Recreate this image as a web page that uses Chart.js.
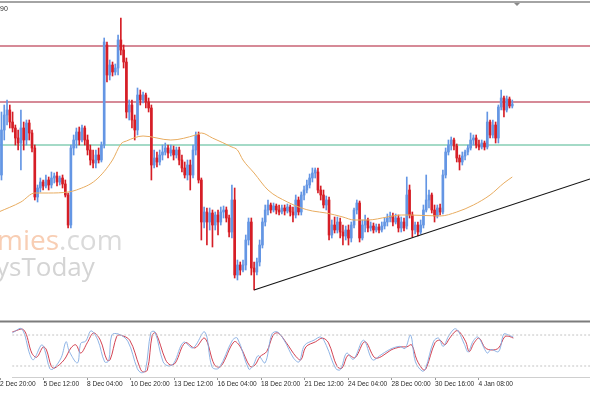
<!DOCTYPE html>
<html>
<head>
<meta charset="utf-8">
<script src="https://cdn.jsdelivr.net/npm/chart.js@4.4.0/dist/chart.umd.min.js"></script>
<style>
  html, body { margin: 0; padding: 0; background: #fff; }
  #wrap { position: relative; width: 590px; height: 393px; overflow: hidden; background: #fff; }
  #main { position: absolute; left: 0; top: 0; }
  #osc { position: absolute; left: 0; top: 318px; }
</style>
</head>
<body>
<div id="wrap">
  <canvas id="main" width="590" height="316"></canvas>
  <canvas id="osc" width="590" height="75"></canvas>
</div>
<script>
// H4 candles, first visible bar is bar 5 (bar 0 = 2 Dec 20:00)
const firstBar = 5;

const openP = [
  1.1929,1.1974,1.1989,1.1994,1.1982,1.1976,1.1966,1.1961,1.1976,1.1964,
  1.1981,1.1971,1.1956,1.1907,1.1916,1.1922,1.1918,1.1924,1.1919,1.1926,
  1.1928,1.1922,1.1926,1.1920,1.1909,1.1879,1.1956,1.1964,1.1972,1.1964,
  1.1976,1.1964,1.1954,1.1944,1.1941,1.1949,1.1944,1.1959,1.2059,1.2029,
  1.2039,1.2032,1.2036,1.2064,1.2054,1.2042,1.1992,1.1999,1.1984,1.1974,
  1.2009,1.2004,1.2009,1.2002,1.1996,1.1939,1.1946,1.1942,1.1949,1.1952,
  1.1956,1.1951,1.1954,1.1949,1.1954,1.1944,1.1936,1.1929,1.1939,1.1929,
  1.1954,1.1969,1.1924,1.1882,1.1892,1.1882,1.1891,1.1879,1.1889,1.1882,
  1.1892,1.1894,1.1886,1.1872,1.1904,1.1829,1.1839,1.1834,1.1839,1.1864,
  1.1882,1.1836,1.1832,1.1842,1.1859,1.1882,1.1894,1.1899,1.1894,1.1898,
  1.1894,1.1892,1.1896,1.1893,1.1897,1.1892,1.1889,1.1904,1.1892,1.1909,
  1.1914,1.1919,1.1926,1.1931,1.1932,1.1914,1.1909,1.1899,1.1904,1.1869,
  1.1879,1.1874,1.1882,1.1872,1.1868,1.1874,1.1866,1.1879,1.1894,1.1901,
  1.1866,1.1879,1.1884,1.1876,1.1878,1.1874,1.1877,1.1874,1.1878,1.1882,
  1.1886,1.1888,1.1882,1.1886,1.1876,1.1882,1.1878,1.1914,1.1889,1.1874,
  1.1879,1.1872,1.1879,1.1894,1.1904,1.1909,1.1894,1.1888,1.1896,1.1892,
  1.1929,1.1952,1.1959,1.1964,1.1958,1.1946,1.1942,1.1948,1.1952,1.1956,
  1.1964,1.1966,1.1959,1.1957,1.1961,1.1957,1.1982,1.1969,1.1979,1.1966,
  1.1997,1.2006,1.1994,1.2005,1.1998
];
const highP = [
  1.1992,1.1999,1.2004,1.1999,1.1992,1.1979,1.1974,1.1994,1.1982,1.1984,
  1.1984,1.1974,1.1959,1.1919,1.1926,1.1924,1.1929,1.1927,1.1932,1.1931,
  1.1932,1.1928,1.1929,1.1924,1.1911,1.1959,1.1969,1.1976,1.1977,1.1979,
  1.1978,1.1969,1.1959,1.1954,1.1954,1.1956,1.1962,1.2066,1.2062,1.2044,
  1.2042,1.2040,1.2069,1.2086,1.2059,1.2046,1.2004,1.2004,1.1989,1.2016,
  1.2014,1.2012,1.2011,1.2006,1.1999,1.1954,1.1952,1.1954,1.1959,1.1961,
  1.1959,1.1959,1.1958,1.1957,1.1957,1.1949,1.1942,1.1944,1.1944,1.1959,
  1.1972,1.1972,1.1926,1.1897,1.1896,1.1896,1.1894,1.1892,1.1894,1.1897,
  1.1898,1.1897,1.1889,1.1919,1.1916,1.1844,1.1842,1.1844,1.1869,1.1886,
  1.1886,1.1842,1.1846,1.1864,1.1886,1.1899,1.1904,1.1901,1.1901,1.1900,
  1.1899,1.1899,1.1899,1.1900,1.1899,1.1897,1.1909,1.1907,1.1912,1.1918,
  1.1924,1.1930,1.1936,1.1936,1.1936,1.1918,1.1914,1.1908,1.1907,1.1884,
  1.1887,1.1887,1.1886,1.1879,1.1878,1.1879,1.1882,1.1896,1.1904,1.1903,
  1.1884,1.1889,1.1886,1.1882,1.1881,1.1880,1.1880,1.1882,1.1886,1.1890,
  1.1892,1.1891,1.1890,1.1889,1.1887,1.1886,1.1927,1.1919,1.1892,1.1882,
  1.1882,1.1884,1.1899,1.1929,1.1914,1.1911,1.1899,1.1899,1.1900,1.1934,
  1.1956,1.1964,1.1967,1.1966,1.1960,1.1949,1.1952,1.1954,1.1959,1.1971,
  1.1969,1.1969,1.1964,1.1964,1.1963,1.1992,1.1984,1.1984,1.1982,1.1999,
  1.2014,1.2008,1.2008,1.2007,1.2004
];
const lowP = [
  1.1924,1.1964,1.1979,1.1976,1.1972,1.1959,1.1954,1.1934,1.1954,1.1959,
  1.1964,1.1952,1.1904,1.1902,1.1912,1.1914,1.1916,1.1914,1.1916,1.1921,
  1.1918,1.1919,1.1916,1.1907,1.1876,1.1876,1.1949,1.1956,1.1959,1.1962,
  1.1959,1.1949,1.1939,1.1936,1.1936,1.1941,1.1942,1.1956,1.2022,1.2024,
  1.2028,1.2029,1.2029,1.2049,1.2036,1.1986,1.1984,1.1976,1.1964,1.1969,
  1.1999,1.2001,1.1996,1.1992,1.1924,1.1936,1.1937,1.1939,1.1944,1.1949,
  1.1946,1.1948,1.1944,1.1946,1.1939,1.1932,1.1926,1.1924,1.1914,1.1926,
  1.1949,1.1921,1.1864,1.1876,1.1859,1.1874,1.1857,1.1874,1.1869,1.1879,
  1.1886,1.1882,1.1867,1.1866,1.1826,1.1824,1.1829,1.1832,1.1834,1.1859,
  1.1829,1.1814,1.1829,1.1838,1.1856,1.1878,1.1889,1.1891,1.1892,1.1890,
  1.1889,1.1890,1.1889,1.1891,1.1888,1.1882,1.1886,1.1889,1.1889,1.1904,
  1.1911,1.1916,1.1922,1.1926,1.1911,1.1904,1.1896,1.1894,1.1864,1.1866,
  1.1871,1.1871,1.1866,1.1859,1.1864,1.1859,1.1862,1.1876,1.1890,1.1862,
  1.1864,1.1872,1.1872,1.1873,1.1871,1.1872,1.1871,1.1872,1.1875,1.1878,
  1.1882,1.1878,1.1880,1.1872,1.1872,1.1873,1.1875,1.1886,1.1867,1.1870,
  1.1868,1.1870,1.1876,1.1892,1.1896,1.1891,1.1882,1.1886,1.1889,1.1890,
  1.1926,1.1949,1.1954,1.1954,1.1942,1.1934,1.1939,1.1944,1.1949,1.1954,
  1.1959,1.1956,1.1954,1.1955,1.1954,1.1955,1.1966,1.1966,1.1961,1.1961,
  1.1994,1.1987,1.1992,1.1996,1.1996
];
const closeP = [
  1.1974,1.1989,1.1994,1.1982,1.1976,1.1966,1.1961,1.1976,1.1964,1.1981,
  1.1971,1.1956,1.1907,1.1916,1.1922,1.1918,1.1924,1.1919,1.1926,1.1928,
  1.1922,1.1926,1.1920,1.1909,1.1879,1.1956,1.1964,1.1972,1.1964,1.1976,
  1.1964,1.1954,1.1944,1.1941,1.1949,1.1944,1.1959,1.2062,1.2029,1.2039,
  1.2032,1.2036,1.2064,1.2054,1.2042,1.1992,1.1999,1.1984,1.1974,1.2009,
  1.2004,1.2009,1.2002,1.1996,1.1939,1.1946,1.1942,1.1949,1.1952,1.1956,
  1.1951,1.1954,1.1949,1.1954,1.1944,1.1936,1.1929,1.1939,1.1929,1.1954,
  1.1969,1.1924,1.1882,1.1892,1.1882,1.1891,1.1879,1.1889,1.1882,1.1892,
  1.1894,1.1886,1.1872,1.1904,1.1829,1.1839,1.1834,1.1839,1.1864,1.1882,
  1.1836,1.1832,1.1842,1.1859,1.1882,1.1894,1.1899,1.1894,1.1898,1.1894,
  1.1892,1.1896,1.1893,1.1897,1.1892,1.1889,1.1904,1.1892,1.1909,1.1914,
  1.1919,1.1926,1.1931,1.1934,1.1914,1.1909,1.1899,1.1904,1.1869,1.1879,
  1.1874,1.1882,1.1872,1.1868,1.1874,1.1866,1.1879,1.1894,1.1901,1.1866,
  1.1879,1.1884,1.1876,1.1878,1.1874,1.1877,1.1874,1.1878,1.1882,1.1886,
  1.1888,1.1882,1.1886,1.1876,1.1882,1.1876,1.1909,1.1889,1.1874,1.1879,
  1.1872,1.1879,1.1894,1.1904,1.1909,1.1894,1.1888,1.1896,1.1892,1.1929,
  1.1952,1.1959,1.1964,1.1958,1.1946,1.1942,1.1948,1.1952,1.1956,1.1964,
  1.1966,1.1959,1.1957,1.1961,1.1957,1.1982,1.1969,1.1979,1.1966,1.1997,
  1.2006,1.1994,1.2005,1.1998,1.2000
];

// moving average at these bars
const maBars = [4, 12, 17, 22, 29, 32, 39, 45, 48, 50, 56, 66, 75, 77, 81, 88, 90, 92, 96, 101,
  108, 113, 117, 122, 128, 132, 137, 144, 149, 152, 163, 169, 175, 181, 186, 189];
const maVals = [1.1892, 1.1902, 1.1911, 1.1911, 1.1912, 1.1914, 1.1924, 1.1944, 1.1960, 1.1963,
  1.1968, 1.1964, 1.1969, 1.1971, 1.1966, 1.1957, 1.1954, 1.1944, 1.1931, 1.1914,
  1.1902, 1.1896, 1.1893, 1.1891, 1.1887, 1.1884, 1.1884, 1.1887, 1.1889, 1.1889,
  1.1888, 1.1892, 1.1899, 1.1909, 1.1921, 1.1927];

// horizontal levels and trend line
const levels = [1.2058, 1.2002, 1.1959];
const levelColors = ['rgba(190,70,92,0.85)', 'rgba(190,70,92,0.85)', 'rgba(120,200,172,0.9)'];
const trendBars = [96, 217];
const trendVals = [1.1814, 1.1925];

// stochastic
const stochMainBars = [4.5, 8, 11, 12.3, 15.3, 16.5, 18.3, 19.5, 22.5, 24.3, 25.5, 28.5, 29.7, 31.5, 33.5, 36,
  38.5, 40, 41.1, 43.5, 47, 50.5, 52, 53.5, 55.5, 57, 60, 62, 64, 67.5, 71, 75.3, 78, 80.5, 85.5, 87.3,
  91.5, 93, 95, 97.5, 100, 102, 104.5, 108, 110, 112, 115.5, 118, 120, 123.5, 125.2, 127.5, 130, 133.7,
  137, 139.7, 143.3, 147, 149, 151, 152.8, 155.3, 156.5, 159.5, 161.3, 163, 165, 167.2, 168.5, 170.8,
  172.2, 174, 175.8, 179.2, 180.6, 183.4, 185.3, 187, 188.8];
const stochMain = [84, 92, 42, 32, 61, 50, 15, 14, 36, 67, 48, 26, 64, 68, 88, 70,
  28, 30, 80, 82, 68, 15, 7, 12, 85, 86, 28, 20, 26, 66, 55, 86, 18, 16, 70, 74,
  14, 20, 40, 26, 82, 86, 70, 35, 28, 60, 70, 76, 60, 15, 13, 45, 33, 70,
  32, 40, 52, 58, 54, 80, 28, 10, 15, 68, 74, 58, 78, 92, 88, 62,
  47, 68, 76, 45, 52, 48, 82, 80, 76];
const stochSigBars = [4.5, 8.7, 11.7, 13.5, 15.9, 17.1, 18.9, 20.1, 23.6, 26.1, 27.9, 29.7, 32.1, 34.4, 36.9,
  39.3, 40.5, 42.9, 44.1, 47.7, 51.3, 52.4, 54.2, 56.0, 57.3, 60.9, 62.7, 64.5, 68.1, 71.7, 75.3, 78.9,
  81.2, 86.1, 88.4, 92.0, 93.8, 95.6, 98.1, 100.5, 102.3, 105.3, 108.9, 110.7, 112.5, 116.1, 118.6,
  120.8, 124.0, 125.8, 128.0, 130.6, 134.2, 137.8, 140.2, 143.8, 147.4, 149.6, 151.4, 153.3, 155.8,
  156.8, 160.0, 161.8, 163.6, 165.4, 167.7, 169.0, 171.3, 172.6, 174.4, 176.2, 178.5, 181.0, 183.4,
  185.7, 187.5, 188.8];
const stochSig = [86, 90, 45, 37, 57, 51, 19, 16, 32, 55, 61, 45, 65, 84, 70,
  32, 32, 77, 80, 70, 19, 9, 12, 80, 84, 32, 22, 26, 65, 55, 74, 22,
  19, 67, 57, 19, 22, 38, 48, 80, 84, 65, 38, 32, 57, 67, 74,
  65, 19, 16, 41, 36, 67, 36, 38, 51, 57, 57, 61, 32, 12,
  16, 65, 70, 61, 74, 88, 86, 67, 48, 65, 74, 55, 51, 55,
  77, 77, 74];
const stochLevels = [80, 20];

// time axis
const tickBars = [0, 16, 32, 48, 64, 80, 96, 112, 128, 144, 160, 176];
const tickLabels = ['2 Dec 20:00', '5 Dec 12:00', '8 Dec 04:00', '10 Dec 20:00', '13 Dec 12:00',
  '16 Dec 04:00', '18 Dec 20:00', '21 Dec 12:00', '24 Dec 04:00', '28 Dec 00:00', '30 Dec 16:00', '4 Jan 08:00'];

// visible bar range
const xMin = 4.467;
const xMax = 217.0;

const upColor = 'rgb(100,150,228)';
const downColor = 'rgb(214,30,38)';

Chart.defaults.font.family = '"Liberation Sans", Arial, sans-serif';

const bars = openP.map((_, k) => firstBar + k);
const candleColors = bars.map((_, k) => closeP[k] >= openP[k] ? upColor : downColor);
const bodies = bars.map((x, k) => ({ x: x, y: [openP[k], closeP[k]] }));
const wicks = bars.map((x, k) => ({ x: x, y: [lowP[k], highP[k]] }));
const zip = (xs, ys) => xs.map((x, k) => ({ x: x, y: ys[k] }));

const levelSets = levels.map((v, k) => ({
  type: 'line',
  data: [{ x: xMin, y: v }, { x: xMax, y: v }],
  borderColor: levelColors[k],
  borderWidth: 1.4,
  pointRadius: 0,
  order: 5
}));

const mainDeco = {
  id: 'mainDeco',
  beforeDatasetsDraw(chart) {
    const c = chart.ctx;
    c.save();
    c.textBaseline = 'alphabetic';
    c.font = '28px "Open Sans"';
    c.fillStyle = 'rgb(248,206,180)';
    c.fillText('mies', -3, 250);
    const w = c.measureText('mies').width;
    c.fillStyle = 'rgb(218,218,218)';
    c.fillText('.com', -3 + w, 250);
    c.font = '26px "Open Sans"';
    c.fillStyle = 'rgb(212,212,212)';
    c.fillText('ysToday', -4, 276);
    c.restore();
  },
  afterDraw(chart) {
    const c = chart.ctx;
    c.save();
    c.fillStyle = '#a4a4a4';
    c.fillRect(0, 1, 590, 2);
    c.fillStyle = '#8a8a8a';
    c.beginPath();
    c.moveTo(514, 3);
    c.lineTo(520, 3);
    c.lineTo(517, 6);
    c.closePath();
    c.fill();
    c.font = '7px "Liberation Sans"';
    c.fillStyle = '#333';
    c.fillText('90', 0, 11);
    c.restore();
  }
};

new Chart(document.getElementById('main'), {
  type: 'bar',
  data: {
    datasets: [
      ...levelSets,
      {
        type: 'bar',
        data: wicks,
        backgroundColor: candleColors,
        barThickness: 1,
        grouped: false,
        order: 3
      },
      {
        type: 'bar',
        data: bodies,
        backgroundColor: candleColors,
        barThickness: 2,
        grouped: false,
        order: 2
      },
      {
        type: 'line',
        data: zip(maBars, maVals),
        borderColor: 'rgb(232,172,96)',
        borderWidth: 1,
        pointRadius: 0,
        cubicInterpolationMode: 'monotone',
        order: 1
      },
      {
        type: 'line',
        data: zip(trendBars, trendVals),
        borderColor: '#151515',
        borderWidth: 1.1,
        pointRadius: 0,
        order: 0
      }
    ]
  },
  options: {
    responsive: false,
    animation: false,
    events: [],
    layout: { padding: 0 },
    plugins: { legend: { display: false }, tooltip: { enabled: false } },
    scales: {
      x: { type: 'linear', min: xMin, max: xMax, display: false, offset: false },
      y: { min: 1.1788, max: 1.2104, display: false }
    }
  },
  plugins: [mainDeco]
});

const oscDeco = {
  id: 'oscDeco',
  beforeDraw(chart) {
    const c = chart.ctx;
    c.save();
    c.fillStyle = '#7c7c7c';
    c.fillRect(0, 2.5, 590, 2);
    c.restore();
  }
};

new Chart(document.getElementById('osc'), {
  type: 'line',
  data: {
    datasets: [
      ...stochLevels.map(v => ({
        data: [{ x: xMin, y: v }, { x: xMax, y: v }],
        borderColor: '#c4c4c4',
        borderWidth: 1,
        borderDash: [2, 2],
        pointRadius: 0
      })),
      {
        data: zip(stochMainBars, stochMain),
        borderColor: 'rgb(130,172,226)',
        borderWidth: 0.9,
        pointRadius: 0,
        tension: 0.35
      },
      {
        data: zip(stochSigBars, stochSig),
        borderColor: 'rgb(205,45,62)',
        borderWidth: 0.9,
        pointRadius: 0,
        tension: 0.35
      }
    ]
  },
  options: {
    responsive: false,
    animation: false,
    events: [],
    layout: { padding: { top: 4, left: 0, right: 0, bottom: 0 } },
    plugins: { legend: { display: false }, tooltip: { enabled: false } },
    scales: {
      x: {
        type: 'linear',
        min: xMin,
        max: xMax,
        offset: false,
        afterBuildTicks: s => { s.ticks = tickBars.map(v => ({ value: v })); },
        afterFit: s => { s.height = 16; },
        ticks: {
          autoSkip: false,
          maxRotation: 0,
          align: 'start',
          padding: 0,
          color: '#2a2a2a',
          font: { size: 6.6 },
          callback: v => tickLabels[tickBars.indexOf(v)]
        },
        grid: { drawOnChartArea: false, drawTicks: true, tickLength: 3, color: '#999' },
        border: { display: true, color: '#cfcfcf' }
      },
      y: { min: -1.3, max: 105.2, display: false }
    }
  },
  plugins: [oscDeco]
});
</script>
</body>
</html>
